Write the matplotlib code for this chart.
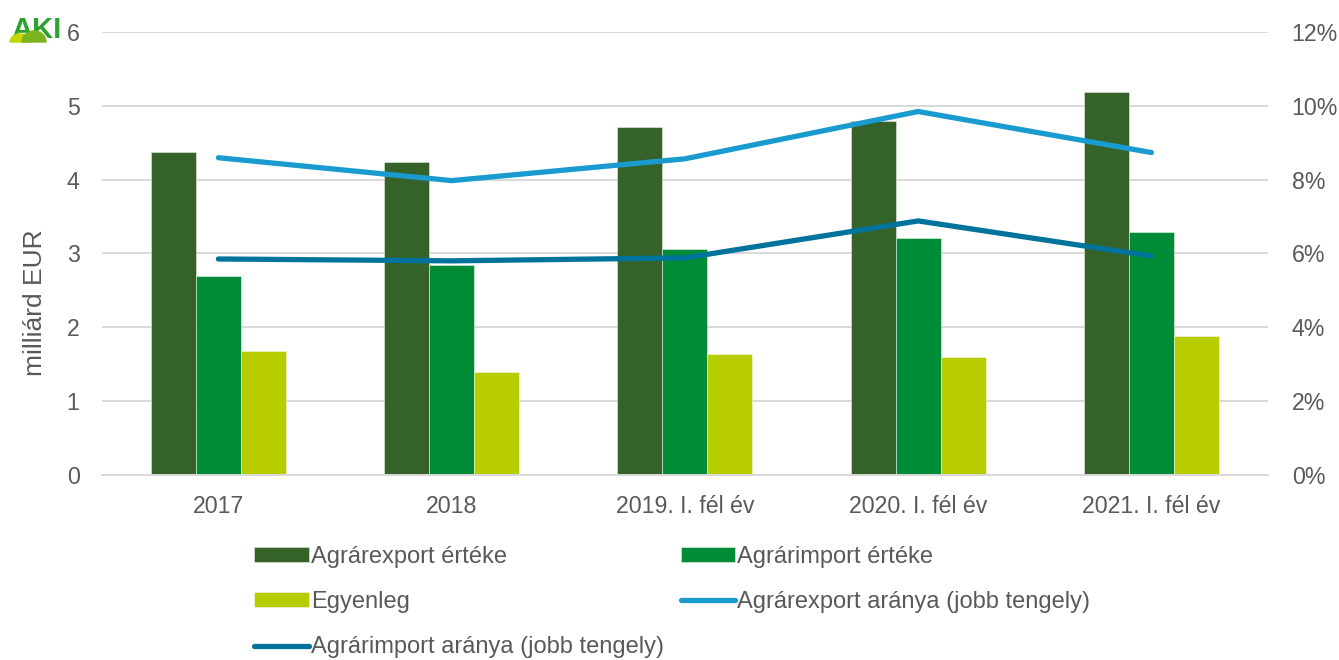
import numpy as np
import matplotlib
matplotlib.use("Agg")
from matplotlib import pyplot as plt
from matplotlib.patches import Polygon
from matplotlib.ticker import FuncFormatter

# adatok
kategoriak = ["2017", "2018", "2019. I. fél év", "2020. I. fél év", "2021. I. fél év"]
export_ertek = [4.37, 4.24, 4.71, 4.79, 5.19]
import_ertek = [2.70, 2.84, 3.06, 3.21, 3.29]
egyenleg = [1.68, 1.40, 1.64, 1.60, 1.88]
export_arany = [8.59, 7.97, 8.56, 9.84, 8.73]
import_arany = [5.85, 5.80, 5.88, 6.88, 5.93]

szurke = "#595959"
betu = 16.7
plt.rcParams["font.family"] = ["Liberation Sans", "DejaVu Sans"]

fig = plt.figure(figsize=(13.39, 6.6), dpi=100)
ax = fig.add_axes([0.076, 0.280, 0.871, 0.672])
ax2 = ax.twinx()

x = np.arange(len(kategoriak))
w = 0.193
b1 = ax.bar(x - w, export_ertek, w, color="#346229", edgecolor="#e8efe6", linewidth=0.4, zorder=2)
b2 = ax.bar(x, import_ertek, w, color="#008C37", edgecolor="#e6f3ea", linewidth=0.4, zorder=2)
b3 = ax.bar(x + w, egyenleg, w, color="#B7CD00", edgecolor="#f4f8e0", linewidth=0.4, zorder=2)

l1, = ax2.plot(x, export_arany, color="#1A9BD0", lw=3.8, solid_capstyle="round", zorder=3)
l2, = ax2.plot(x, import_arany, color="#00739C", lw=3.8, solid_capstyle="round", zorder=3)

ax.set_xlim(-0.5, len(kategoriak) - 0.5)
ax.set_ylim(0, 6)
ax.set_yticks(range(0, 7))
ax2.set_ylim(0, 12)
ax2.set_yticks(range(0, 13, 2))
ax2.yaxis.set_major_formatter(FuncFormatter(lambda v, p: "%d%%" % v))

ax.set_xticks(x)
ax.set_xticklabels(kategoriak)
ax.grid(axis="y", color="#D9D9D9", lw=1.4, zorder=0)
ax.set_axisbelow(True)

for a in (ax, ax2):
    for s in a.spines.values():
        s.set_visible(False)
ax.spines["bottom"].set_visible(True)
ax.spines["bottom"].set_color("#D9D9D9")
ax.spines["bottom"].set_linewidth(1.4)

ax.tick_params(axis="y", length=0, pad=16, labelsize=betu, labelcolor=szurke)
ax.tick_params(axis="x", length=0, pad=14, labelsize=betu, labelcolor=szurke)
ax2.tick_params(axis="y", length=0, pad=17, labelsize=betu, labelcolor=szurke)

ax.set_ylabel("milliárd EUR", fontsize=19, color=szurke)
ax.yaxis.set_label_coords(-0.047, 0.388)

ax2.set_zorder(ax.get_zorder() + 1)
ax2.patch.set_visible(False)

# jelmagyarazat
kezek = [b1, b3, l2, b2, l1]
cimkek = ["Agrárexport értéke", "Egyenleg", "Agrárimport aránya (jobb tengely)",
          "Agrárimport értéke", "Agrárexport aránya (jobb tengely)"]
leg = fig.legend(kezek, cimkek, ncol=2, loc="upper left", bbox_to_anchor=(0.19, 0.1725),
                 frameon=False, fontsize=17, handlelength=2.3, handleheight=0.6,
                 handletextpad=0.1, labelspacing=0.98, columnspacing=0.7, borderaxespad=0,
                 borderpad=0)
for t in leg.get_texts():
    t.set_color(szurke)

# AKI logo
fig.text(0.027, 0.955, "AKI", fontsize=21, fontweight="bold",
         color="#2EA12E", va="center", ha="center")


def domb(cx, cy, rx, ry, szin):
    t = np.linspace(0, np.pi, 40)
    pts = np.column_stack([cx + rx * np.cos(t), cy + ry * np.sin(t)])
    pts = fig.transFigure.inverted().transform(pts)
    fig.patches.append(Polygon(pts, closed=True, color=szin, transform=fig.transFigure,
                               zorder=6))


domb(20, 618, 10, 8, "#C4D600")
domb(34, 618, 12, 11, "#7AB51D")

fig.savefig("out.png", dpi=100)
